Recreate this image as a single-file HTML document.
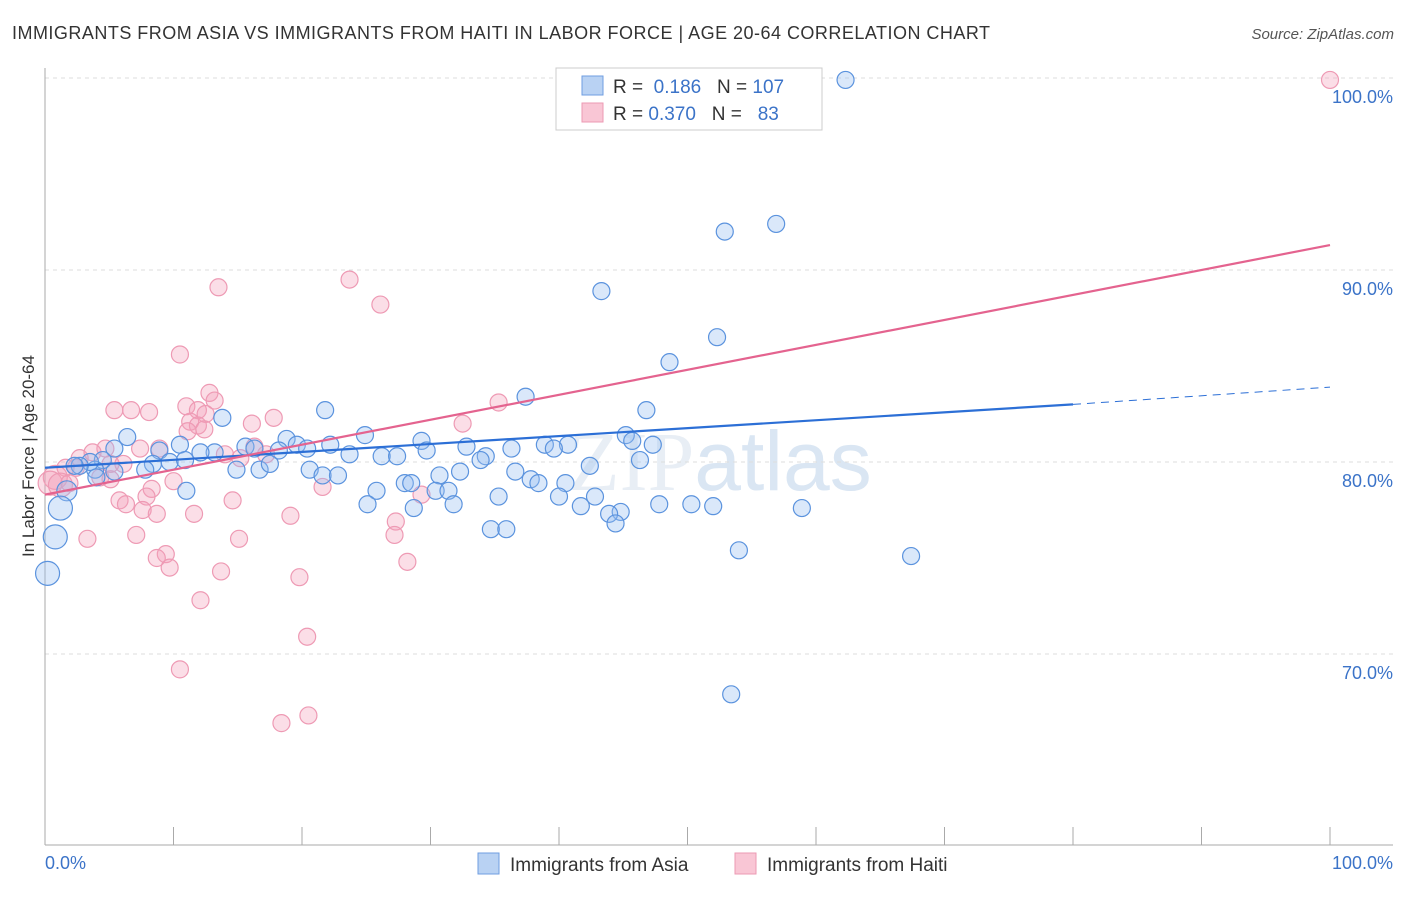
<!DOCTYPE html>
<html><head><meta charset="utf-8"><style>
body{margin:0;background:#fff;font-family:"Liberation Sans",sans-serif}
</style></head><body>
<svg id="c" width="1406" height="892" xmlns="http://www.w3.org/2000/svg">
<text x="12" y="39" font-size="18" fill="#333" textLength="978" lengthAdjust="spacing">IMMIGRANTS FROM ASIA VS IMMIGRANTS FROM HAITI IN LABOR FORCE | AGE 20-64 CORRELATION CHART</text>
<text x="1394" y="39" font-size="15" fill="#555" font-style="italic" text-anchor="end">Source: ZipAtlas.com</text>
<text x="720" y="490" font-size="84" fill="#e8eef5" text-anchor="middle" font-family="Liberation Serif,serif">ZIP<tspan fill="#dae6f3" font-family="Liberation Sans,sans-serif">atlas</tspan></text>
<g id="grid"></g><g id="pts"></g><g id="lines"></g>
<text transform="translate(34,456) rotate(-90)" font-size="17" fill="#333" text-anchor="middle">In Labor Force | Age 20-64</text>
<text x="45" y="869" font-size="18" fill="#3b73c8">0.0%</text>
<text x="1393" y="869" font-size="18" fill="#3b73c8" text-anchor="end">100.0%</text>
<g>
<rect x="556" y="68" width="266" height="62" fill="#fff" stroke="#ccc"/>
<rect x="582" y="76" width="21" height="19" fill="#b9d2f3" stroke="#6f9ee0"/>
<rect x="582" y="103" width="21" height="19" fill="#f9c6d5" stroke="#ec9ab3"/>
<text x="613" y="93" font-size="19" fill="#333">R = <tspan fill="#3b73c8">&#160;0.186</tspan>&#160;&#160;&#160;N = <tspan fill="#3b73c8">107</tspan></text>
<text x="613" y="120" font-size="19" fill="#333">R = <tspan fill="#3b73c8">0.370</tspan>&#160;&#160;&#160;N = <tspan fill="#3b73c8">&#160;&#160;83</tspan></text>
</g>
<g>
<rect x="478" y="853" width="21" height="21" fill="#b9d2f3" stroke="#6f9ee0"/>
<text x="510" y="871" font-size="19" fill="#333">Immigrants from Asia</text>
<rect x="735" y="853" width="21" height="21" fill="#f9c6d5" stroke="#ec9ab3"/>
<text x="767" y="871" font-size="19" fill="#333">Immigrants from Haiti</text>
</g>
</svg>
<script>
const yTicks=[100,90,80,70];
const xTicks=[0,10,20,30,40,50,60,70,80,90,100];
const asiaX=[62.3,56.9,52.9,43.3,52.3,48.6,37.4,46.8,21.8,13.8,45.2,24.9,6.4,29.3,45.7,40.7,18.8,19.6,32.8,36.3,38.9,39.6,47.3,22.2,10.5,13.2,15.6,16.3,18.2,20.4,23.7,26.2,27.4,29.7,34.3,33.9,46.3,42.4,20.6,16.7,14.9,12.1,8.9,8.4,7.8,4.5,3.9,3.5,2.7,5.4,30.7,32.3,36.6,37.8,38.4,40.5,28.0,28.5,25.8,21.6,22.8,30.4,31.4,35.3,40.0,42.8,31.8,28.7,41.7,44.8,47.8,50.3,52.0,58.9,25.1,43.9,44.4,34.7,35.9,54.0,67.4,53.4,11.0,1.7,1.2,0.8,0.2,4.0,2.3,9.7,5.4,10.9,17.5];
const asiaY=[99.9,92.4,92.0,88.9,86.5,85.2,83.4,82.7,82.7,82.3,81.4,81.4,81.3,81.1,81.1,80.9,81.2,80.9,80.8,80.7,80.9,80.7,80.9,80.9,80.9,80.5,80.8,80.7,80.6,80.7,80.4,80.3,80.3,80.6,80.3,80.1,80.1,79.8,79.6,79.6,79.6,80.5,80.6,79.9,79.6,80.1,79.6,80.0,79.8,80.7,79.3,79.5,79.5,79.1,78.9,78.9,78.9,78.9,78.5,79.3,79.3,78.5,78.5,78.2,78.2,78.2,77.8,77.6,77.7,77.4,77.8,77.8,77.7,77.6,77.8,77.3,76.8,76.5,76.5,75.4,75.1,67.9,78.5,78.5,77.6,76.1,74.2,79.2,79.8,80.0,79.5,80.1,79.9];
const haitiX=[100,23.7,13.5,26.1,10.5,12.8,13.2,35.3,11.0,6.7,5.4,8.1,11.9,12.5,17.8,32.5,16.1,11.3,11.9,12.4,11.1,4.7,2.7,2.4,3.7,5.1,6.1,7.4,8.9,16.3,1.6,0.8,0.4,1.2,1.9,4.3,5.1,10.0,21.6,8.3,7.9,5.8,6.3,14.6,7.6,8.7,11.6,19.1,27.3,27.2,7.1,15.1,3.3,9.4,8.7,9.7,28.2,13.7,19.8,12.1,20.4,10.5,20.5,18.4,29.3,15.2,17.2,14.0];
const haitiY=[99.9,89.5,89.1,88.2,85.6,83.6,83.2,83.1,82.9,82.7,82.7,82.6,82.7,82.5,82.3,82.0,82.0,82.1,81.9,81.7,81.6,80.7,80.2,79.7,80.5,79.9,79.9,80.7,80.7,80.8,79.7,79.2,78.9,78.8,78.9,79.2,79.1,79.0,78.7,78.6,78.2,78.0,77.8,78.0,77.5,77.3,77.3,77.2,76.9,76.2,76.2,76.0,76.0,75.2,75.0,74.5,74.8,74.3,74.0,72.8,70.9,69.2,66.8,66.4,78.3,80.2,80.4,80.4];
const asiaTrend=[79.7,83.0,83.9]; // at x=0, 80, 100
const haitiTrend=[78.3,91.3];      // at x=0, 100
const NS="http://www.w3.org/2000/svg";
const sx=v=>45+v*12.85, sy=v=>78+(100-v)*19.2;
function mk(t,a,p){const e=document.createElementNS(NS,t);for(const k in a)e.setAttribute(k,a[k]);p.appendChild(e);return e;}
const grid=document.getElementById('grid');
yTicks.forEach(t=>{
 const l=mk('line',{x1:45,x2:1393,y1:sy(t),y2:sy(t),stroke:'#ddd','stroke-dasharray':'4,4'},grid);
 
 
 const tx=mk('text',{x:1393,y:sy(t)+25,'font-size':18,fill:'#3b73c8','text-anchor':'end'},grid);
 tx.textContent=t.toFixed(1)+'%';
 
 
});
mk('line',{x1:45,x2:45,y1:68,y2:845,stroke:'#aaa'},grid);
mk('line',{x1:45,x2:1393,y1:845,y2:845,stroke:'#aaa'},grid);
xTicks.forEach(t=>{const l=mk('line',{x1:sx(t),x2:sx(t),y1:827,y2:845,stroke:'#aaa'},grid);
 
 });
const pts=document.getElementById('pts');
haitiX.forEach((x,i)=>{const c=mk('circle',{cx:sx(x),cy:sy(haitiY[i]),r:x<1.5?12:8.5,fill:'rgba(244,160,185,0.35)',stroke:'#ee9ab4','stroke-width':1.2},pts);
 
 });
asiaX.forEach((x,i)=>{const c=mk('circle',{cx:sx(x),cy:sy(asiaY[i]),r:x<1.5?12:(x<3&&asiaY[i]<79?10:8.5),fill:'rgba(150,190,240,0.35)',stroke:'#5b93de','stroke-width':1.2},pts);
 
 });
const lines=document.getElementById('lines');
let a=mk('line',{x1:sx(0),y1:sy(asiaTrend[0]),x2:sx(80),y2:sy(asiaTrend[1]),stroke:'#2c6fd6','stroke-width':2.2},lines);


let a2=mk('line',{x1:sx(80),y1:sy(asiaTrend[1]),x2:sx(100),y2:sy(asiaTrend[2]),stroke:'#2c6fd6','stroke-width':1,'stroke-dasharray':'8,6'},lines);


let h=mk('line',{x1:sx(0),y1:sy(haitiTrend[0]),x2:sx(100),y2:sy(haitiTrend[1]),stroke:'#e4638f','stroke-width':2.2},lines);


</script>
</body></html>
